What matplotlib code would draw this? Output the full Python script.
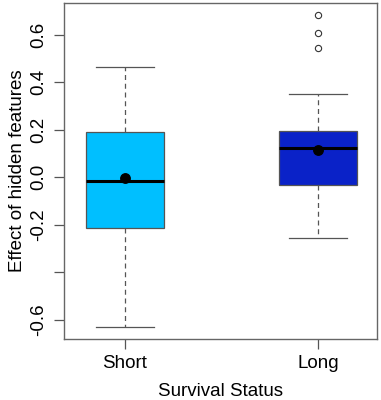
import matplotlib
matplotlib.use("Agg")
import matplotlib.pyplot as plt

plt.rcParams['font.family'] = ['Liberation Sans', 'DejaVu Sans']

categories = ["Short", "Long"]
q1 = [-0.216, -0.035]
med = [-0.017, 0.121]
q3 = [0.188, 0.194]
whislo = [-0.630, -0.258]
whishi = [0.463, 0.349]
means = [-0.003, 0.114]
outliers = [[], [0.544, 0.608, 0.681]]
colors = ["#00BFFF", "#0A22C8"]

yticks = [-0.6, -0.4, -0.2, 0.0, 0.2, 0.4, 0.6]
yticklabels = ["-0.6", "", "-0.2", "0.0", "0.2", "0.4", "0.6"]

fig = plt.figure(figsize=(3.81, 4.0), dpi=100)
ax = fig.add_axes([64/381, 1 - 339/400, (377-64)/381, (339-3)/400])

stats = []
for i in range(2):
    stats.append(dict(label=categories[i], q1=q1[i], med=med[i], q3=q3[i],
                      whislo=whislo[i], whishi=whishi[i], fliers=outliers[i]))

bp = ax.bxp(stats, positions=[1, 2], widths=0.40, patch_artist=True,
            showfliers=True,
            boxprops=dict(edgecolor="#555555", linewidth=0.9),
            medianprops=dict(color="black", linewidth=2.2),
            whiskerprops=dict(color="#555555", linestyle=(0, (4, 3)), linewidth=0.9),
            capprops=dict(color="#555555", linewidth=0.9),
            flierprops=dict(marker='o', markerfacecolor='white', markeredgecolor='#333333',
                            markersize=4.5, markeredgewidth=0.8))
for patch, c in zip(bp['boxes'], colors):
    patch.set_facecolor(c)
for w in bp['caps']:
    x = w.get_xdata()
    cx = (x[0] + x[1]) / 2
    w.set_xdata([cx - 0.15, cx + 0.15])

ax.plot([1, 2], means, 'o', color='black', markersize=6.8, zorder=5)

ax.set_xlim(0.684, 2.306)
ax.set_ylim(-0.682, 0.733)
ax.set_yticks(yticks)
ax.set_yticklabels(yticklabels, rotation=90, va='center', fontsize=13.5)
ax.set_xticks([1, 2])
ax.set_xticklabels(categories, fontsize=13.5)
ax.tick_params(direction='out', length=7, width=0.9, color='#555555')
ax.tick_params(axis='y', pad=5)
ax.tick_params(axis='x', pad=4.5)
for s in ax.spines.values():
    s.set_color('#666666')
    s.set_linewidth(1.0)
ax.set_xlabel("Survival Status", fontsize=13.5, labelpad=8)
ax.set_ylabel("Effect of hidden features", fontsize=13.5, labelpad=3)

fig.savefig("out.png", dpi=100)
